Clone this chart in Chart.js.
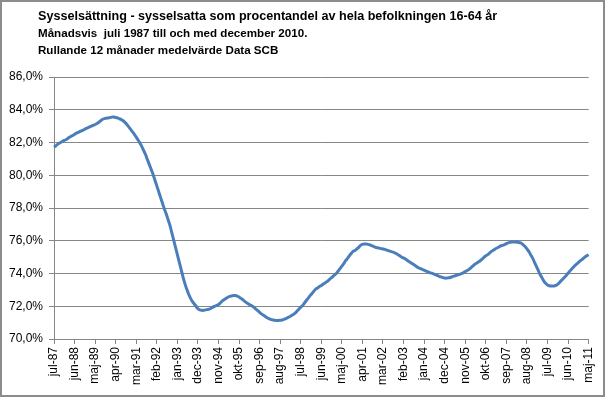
<!DOCTYPE html>
<html>
<head>
<meta charset="utf-8">
<script src="https://cdn.jsdelivr.net/npm/chart.js@4/dist/chart.umd.min.js"></script>
<style>
    body { margin: 0; background: #fff; }
    #wrap { width: 606px; height: 397px; }
</style>
</head>
<body>
<div id="wrap"><canvas id="employmentChart" width="606" height="397"></canvas></div>
<script>
// Swedish month abbreviations, series runs jul-87 .. maj-11
const monthNames = ["jan", "feb", "mar", "apr", "maj", "jun", "jul", "aug", "sep", "okt", "nov", "dec"];
const startYear = 1987;
const startMonth = 6; // jul

// Labels that Excel shows on the axis (every 11th month)
const tickLabels = ["jul-87", "jun-88", "maj-89", "apr-90", "mar-91", "feb-92", "jan-93", "dec-93",
    "nov-94", "okt-95", "sep-96", "aug-97", "jul-98", "jun-99", "maj-00", "apr-01", "mar-02",
    "feb-03", "jan-04", "dec-04", "nov-05", "okt-06", "sep-07", "aug-08", "jul-09", "jun-10", "maj-11"];

// Employment rate 16-64, rolling 12 month mean (%), one row per calendar year
const employmentRate = [
    81.72, 81.80, 81.90, 81.97, 82.03, 82.10,                                           // 1987 jul-dec
    82.15, 82.22, 82.30, 82.37, 82.43, 82.50, 82.57, 82.62, 82.68, 82.72, 82.78, 82.85, // 1988
    82.90, 82.95, 83.00, 83.05, 83.10, 83.16, 83.24, 83.33, 83.42, 83.46, 83.48, 83.50, // 1989
    83.52, 83.55, 83.55, 83.53, 83.50, 83.45, 83.40, 83.33, 83.22, 83.10, 82.95, 82.80, // 1990
    82.65, 82.50, 82.33, 82.15, 81.95, 81.75, 81.50, 81.25, 80.95, 80.65, 80.35, 80.05, // 1991
    79.70, 79.35, 79.00, 78.65, 78.30, 77.95, 77.65, 77.30, 76.95, 76.50, 76.05, 75.60, // 1992
    75.15, 74.70, 74.25, 73.80, 73.40, 73.05, 72.75, 72.50, 72.30, 72.15, 72.00, 71.85, // 1993
    71.78, 71.75, 71.75, 71.78, 71.80, 71.82, 71.88, 71.95, 72.00, 72.05, 72.10, 72.20, // 1994
    72.32, 72.40, 72.48, 72.55, 72.60, 72.63, 72.65, 72.65, 72.62, 72.56, 72.48, 72.40, // 1995
    72.30, 72.22, 72.15, 72.08, 72.02, 71.93, 71.83, 71.73, 71.63, 71.53, 71.45, 71.38, // 1996
    71.30, 71.25, 71.20, 71.17, 71.14, 71.13, 71.13, 71.14, 71.16, 71.20, 71.25, 71.30, // 1997
    71.36, 71.43, 71.50, 71.58, 71.70, 71.82, 71.95, 72.05, 72.20, 72.35, 72.50, 72.65, // 1998
    72.78, 72.92, 73.05, 73.12, 73.20, 73.27, 73.35, 73.42, 73.50, 73.60, 73.70, 73.80, // 1999
    73.90, 74.00, 74.15, 74.30, 74.45, 74.60, 74.78, 74.92, 75.08, 75.22, 75.35, 75.40, // 2000
    75.50, 75.60, 75.72, 75.78, 75.80, 75.80, 75.78, 75.75, 75.70, 75.65, 75.60, 75.57, // 2001
    75.55, 75.52, 75.50, 75.47, 75.43, 75.39, 75.35, 75.32, 75.28, 75.22, 75.15, 75.08, // 2002
    75.00, 74.95, 74.88, 74.80, 74.72, 74.65, 74.58, 74.50, 74.42, 74.35, 74.30, 74.25, // 2003
    74.20, 74.15, 74.10, 74.05, 74.02, 73.98, 73.93, 73.88, 73.83, 73.79, 73.75, 73.72, // 2004
    73.72, 73.74, 73.76, 73.80, 73.84, 73.88, 73.92, 73.95, 73.99, 74.05, 74.12, 74.18, // 2005
    74.25, 74.35, 74.45, 74.55, 74.62, 74.70, 74.78, 74.88, 74.98, 75.08, 75.15, 75.25, // 2006
    75.35, 75.42, 75.50, 75.56, 75.62, 75.68, 75.72, 75.76, 75.82, 75.87, 75.90, 75.92, // 2007
    75.92, 75.92, 75.91, 75.88, 75.85, 75.75, 75.65, 75.50, 75.35, 75.15, 74.95, 74.70, // 2008
    74.45, 74.20, 73.95, 73.75, 73.55, 73.40, 73.30, 73.25, 73.24, 73.24, 73.25, 73.30, // 2009
    73.40, 73.52, 73.63, 73.75, 73.88, 74.02, 74.15, 74.28, 74.40, 74.52, 74.62, 74.72, // 2010
    74.82, 74.90, 75.00, 75.08, 75.15                                                   // 2011 jan-maj
];

const titleLines = [
    "Sysselsättning - sysselsatta som procentandel av hela befolkningen 16-64 år",
    "Månadsvis  juli 1987 till och med december 2010.",
    "Rullande 12 månader medelvärde Data SCB"
];

// month labels like "jul-87"
const labels = employmentRate.map((v, i) => {
    const m = (startMonth + i) % 12;
    const y = startYear + Math.floor((startMonth + i) / 12);
    return monthNames[m] + "-" + String(y).slice(2);
});

const gridGray = "#868686";
const tickFont = { family: "'Liberation Sans', Arial", size: 12 };

// titles + outer frame, drawn like the Excel chart box
const chartFrame = {
    id: "chartFrame",
    afterDraw(chart) {
        const c = chart.ctx;
        c.save();
        c.fillStyle = "#000";
        c.textBaseline = "middle";
        c.font = "bold 12.6px 'Liberation Sans', Arial";
        c.fillText(titleLines[0], 38, 17);
        c.font = "bold 11.6px 'Liberation Sans', Arial";
        c.fillText(titleLines[1], 38, 34);
        c.fillText(titleLines[2], 38, 51);
        c.strokeStyle = "#8c8c8c";
        c.lineWidth = 2;
        c.strokeRect(1, 1, 603, 395);
        c.restore();
    }
};

const ctx = document.getElementById("employmentChart").getContext("2d");
const employmentChart = new Chart(ctx, {
    type: "line",
    data: {
        labels: labels,
        datasets: [{
            label: "Sysselsatta 16-64 år",
            data: employmentRate,
            borderColor: "#4a7ebb",
            borderWidth: 3,
            pointRadius: 0,
            tension: 0.3,
            fill: false
        }]
    },
    options: {
        responsive: false,
        animation: false,
        layout: {
            padding: { left: 0, right: 16, top: 77, bottom: 0 }
        },
        plugins: {
            legend: { display: false },
            tooltip: { enabled: false }
        },
        scales: {
            x: {
                type: "category",
                offset: false,
                afterBuildTicks: scale => {
                    scale.ticks = scale.ticks.filter(t => tickLabels.includes(labels[t.value]));
                },
                afterFit: scale => { scale.height = 58; },
                grid: {
                    drawOnChartArea: false,
                    drawTicks: true,
                    tickLength: 5,
                    color: gridGray
                },
                border: { color: gridGray },
                ticks: {
                    autoSkip: false,
                    maxRotation: 90,
                    minRotation: 90,
                    padding: 3,
                    color: "#000",
                    font: tickFont
                }
            },
            y: {
                min: 70,
                max: 86,
                afterFit: scale => { scale.width = 54; },
                grid: {
                    color: gridGray,
                    tickLength: 5
                },
                border: { color: gridGray },
                ticks: {
                    stepSize: 2,
                    padding: 6,
                    color: "#000",
                    font: tickFont,
                    callback: v => v.toFixed(1).replace(".", ",") + "%"
                }
            }
        }
    },
    plugins: [chartFrame]
});
</script>
</body>
</html>
